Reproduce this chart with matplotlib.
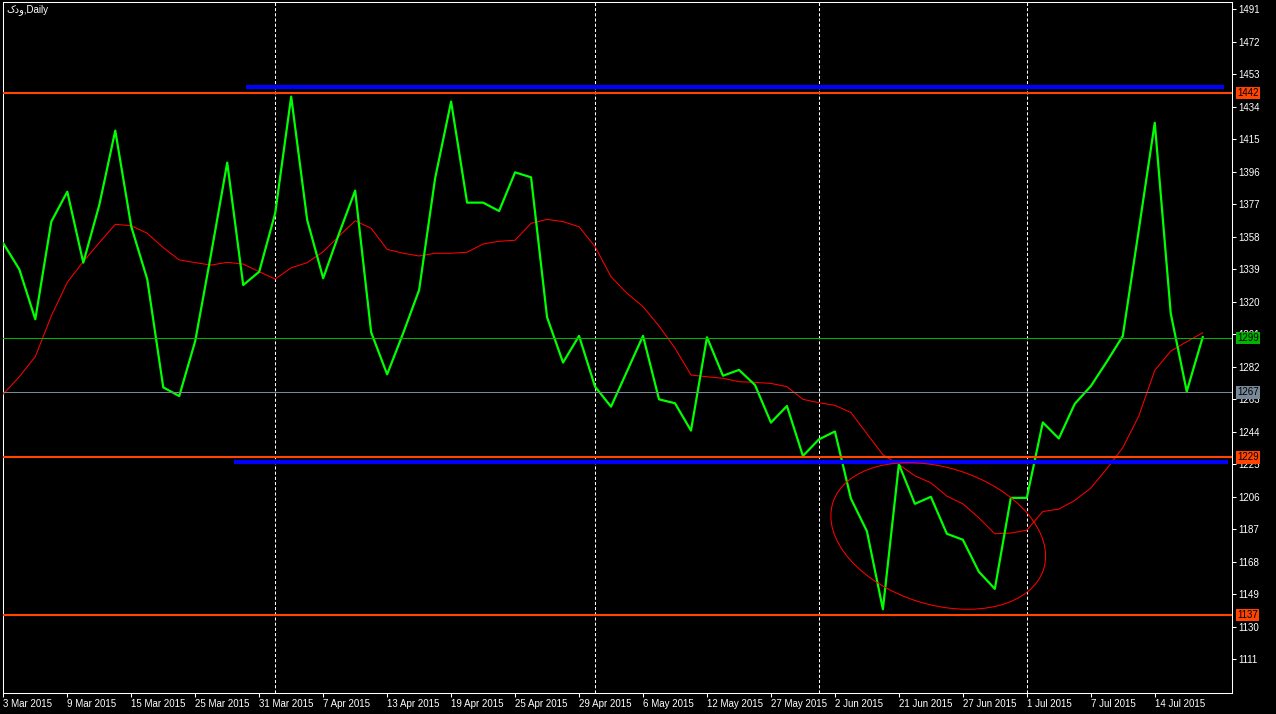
import matplotlib
matplotlib.use("Agg")
import matplotlib.pyplot as plt
from matplotlib.patches import Ellipse
from matplotlib.transforms import ScaledTranslation

plt.rcParams['font.family'] = ['Liberation Sans', 'DejaVu Sans']

# --- datos (cierre diario + media movil) ---
closes = [
    1354.2, 1339.0, 1309.8, 1366.9, 1384.4, 1342.9, 1376.6, 1420.1, 1364.0, 1333.2,
    1270.0, 1264.9, 1297.1, 1348.4, 1401.4, 1329.8, 1337.6, 1371.8, 1440.0, 1367.9,
    1333.8, 1360.1, 1385.0, 1302.2, 1277.6, 1301.6, 1326.9, 1392.2, 1437.1, 1378.0,
    1378.0, 1373.1, 1395.7, 1392.8, 1311.0, 1284.5, 1300.1, 1270.4, 1258.7, 1279.4,
    1300.1, 1263.0, 1260.7, 1244.7, 1299.3, 1276.8, 1280.2, 1271.4, 1249.4, 1259.1,
    1229.9, 1239.6, 1244.2, 1205.0, 1185.9, 1140.3, 1225.1, 1201.9, 1206.0, 1184.4,
    1180.9, 1162.2, 1152.2, 1205.4, 1205.4, 1249.5, 1240.1, 1260.4, 1270.7, 1285.0,
    1300.0, 1362.0, 1424.7, 1313.2, 1267.6, 1299.4,
]
ma = [
    1266.1, 1276.2, 1288.0, 1311.7, 1331.4, 1343.5, 1354.6, 1365.3, 1364.5, 1360.1,
    1351.7, 1344.5, 1342.9, 1341.5, 1343.1, 1342.1, 1337.6, 1333.3, 1339.9, 1342.9,
    1349.3, 1358.5, 1367.4, 1363.0, 1350.7, 1348.4, 1346.8, 1348.4, 1348.4, 1349.0,
    1353.8, 1355.4, 1356.0, 1365.9, 1368.2, 1366.9, 1363.9, 1352.3, 1334.7, 1325.0,
    1317.2, 1305.9, 1292.9, 1277.2, 1276.2, 1275.3, 1273.3, 1272.9, 1272.3, 1270.4,
    1263.0, 1261.0, 1259.5, 1255.3, 1242.9, 1230.6, 1224.9, 1218.3, 1214.2, 1206.4,
    1201.9, 1193.7, 1184.4, 1184.8, 1186.5, 1197.4, 1198.8, 1203.9, 1211.1, 1222.4,
    1234.7, 1253.2, 1279.9, 1291.2, 1296.7, 1301.9,
]
date_labels = [
    "3 Mar 2015", "9 Mar 2015", "15 Mar 2015", "25 Mar 2015", "31 Mar 2015",
    "7 Apr 2015", "13 Apr 2015", "19 Apr 2015", "25 Apr 2015", "29 Apr 2015",
    "6 May 2015", "12 May 2015", "27 May 2015", "2 Jun 2015", "21 Jun 2015",
    "27 Jun 2015", "1 Jul 2015", "7 Jul 2015", "14 Jul 2015",
]
label_step = 4
month_breaks = [17, 37, 51, 64]

levels = [1442, 1299, 1267, 1229, 1137]
level_colors = ["#FF4500", "#00B400", "#778899", "#FF4500", "#FF4500"]
level_widths = [1.5, 0.75, 0.75, 1.5, 1.5]

trend_upper_x = [15.2, 76.3]
trend_upper_y = [1445.4, 1445.4]
trend_lower_x = [14.4, 76.6]
trend_lower_y = [1226.2, 1226.2]

ellipse_center = (58.46, 1183.1)
ellipse_size_in = (2.21, 1.37)
ellipse_angle = -17.5

# matplotlib no invierte texto RTL: se escribe en orden visual
title = "کدو" + ",Daily"

W, H = 1276, 714
fig = plt.figure(figsize=(W / 100, H / 100), dpi=100, facecolor="black")
ax = fig.add_axes([3 / W, 21 / H, 1229 / W, 691 / H], facecolor="black")

x = list(range(len(closes)))

for b in month_breaks:
    ax.axvline(b, color="white", lw=0.75, linestyle=(0, (3, 2)), zorder=1)

ax.plot(x, ma, color="#FF0000", lw=0.75, zorder=3)
ax.plot(x, closes, color="#00FF00", lw=1.6, zorder=4)

for val, col, lw in zip(levels, level_colors, level_widths):
    ax.axhline(val, color=col, lw=lw, zorder=5)

ax.plot(trend_upper_x, trend_upper_y, color="#0000FF", lw=3, solid_capstyle="butt", zorder=5)
ax.plot(trend_lower_x, trend_lower_y, color="#0000FF", lw=3, solid_capstyle="butt", zorder=5)

trans = fig.dpi_scale_trans + ScaledTranslation(ellipse_center[0], ellipse_center[1], ax.transData)
ax.add_patch(Ellipse((0, 0), ellipse_size_in[0], ellipse_size_in[1], angle=ellipse_angle,
                     fill=False, ec="#FF0000", lw=0.75, transform=trans, zorder=5))

ax.set_xlim(-0.02, 76.83)
ax.set_ylim(1091.3, 1495.3)

ax.set_xticks(list(range(0, len(date_labels) * label_step, label_step)))
ax.set_xticklabels(date_labels)
for lbl in ax.get_xticklabels():
    lbl.set_ha("left")
ax.set_yticks(list(range(1111, 1492, 19)))
ax.yaxis.tick_right()

ax.tick_params(axis="both", colors="white", direction="out", length=3, width=0.75,
               labelsize=7, pad=1.5)
for s in ax.spines.values():
    s.set_color("white")
    s.set_linewidth(0.75)

# etiquetas de precio en el eje derecho
for val, col in zip(levels, level_colors):
    ax.annotate(f"{val}", xy=(1, val), xycoords=("axes fraction", "data"),
                xytext=(5, 0), textcoords="offset pixels", ha="left", va="center",
                fontsize=7, color="black", annotation_clip=False, zorder=10,
                bbox=dict(boxstyle="square,pad=0.12", fc=col, ec="none"))

fig.text(6 / W, 1 - 10 / H, title, color="white", fontsize=7, ha="left", va="center")

fig.savefig("out.png", dpi=100, facecolor="black")
